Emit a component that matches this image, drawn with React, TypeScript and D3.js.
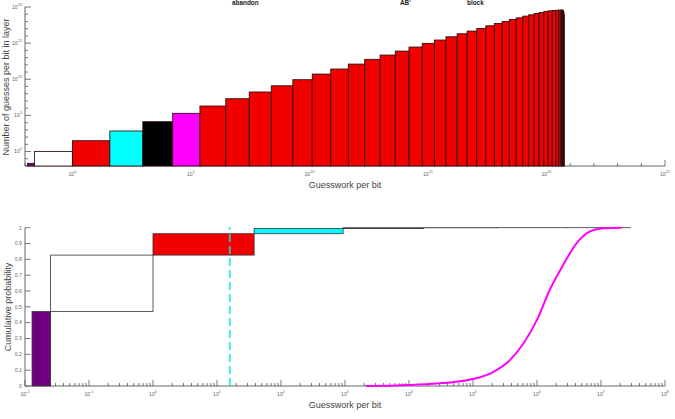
import React from 'react';
import * as d3 from 'd3';

const W = 675;
const H = 419;

// Layer boundaries in guesswork per bit, given as powers of ten
const layerEdgeExp = [
  -1.89, -1.6, 0, 1.58, 2.97, 4.23, 5.38, 6.47, 7.46, 8.39, 9.3, 10.12, 10.9, 11.64,
  12.33, 12.98, 13.62, 14.2, 14.76, 15.27, 15.76, 16.23, 16.65, 17.06, 17.44, 17.8,
  18.13, 18.43, 18.72, 19.0, 19.25, 19.48, 19.69, 19.89, 20.07, 20.24, 20.39, 20.5,
  20.58, 20.63, 20.67, 20.7, 20.72, 20.74, 20.75,
];

// Number of guesses per bit in each layer, as powers of ten
const layerCountExp = [
  -1.63, 0, 1.5, 2.84, 4.13, 5.29, 6.3, 7.31, 8.24, 9.1, 9.94, 10.72, 11.42, 12.1,
  12.76, 13.35, 13.9, 14.46, 14.97, 15.43, 15.88, 16.3, 16.67, 17.04, 17.4, 17.73,
  18.0, 18.28, 18.5, 18.74, 18.92, 19.1, 19.25, 19.4, 19.47, 19.52, 19.55, 19.57,
  19.58, 19.58, 19.57, 19.5, 19.3, 18.9,
];

// Cumulative probability reached at the end of each of the first layers
const layerCumProb = [0.47, 0.827, 0.962, 0.995, 0.9993, 0.99995, 0.999998, 1, 1];

// Fill of the first layers; every later layer is red
const layerFills = ['#6e0080', '#ffffff', '#f20000', '#00ffff', '#000000', '#ff00ff'];
const restFill = '#f20000';

// Comparison distribution (magenta curve), guesswork exponent vs cumulative probability
const curveExp = [3.33, 3.7, 4.02, 4.48, 4.745, 5.0, 5.32, 5.58, 5.79, 6.0, 6.2, 6.41, 6.62, 6.83, 7.04, 7.32];
const curveProb = [0, 0.002, 0.006, 0.017, 0.027, 0.044, 0.09, 0.165, 0.27, 0.418, 0.608, 0.766, 0.903, 0.977, 0.996, 1.0];

// Reference guesswork level (dashed cyan line), as power of ten
const markerExp = 1.2;

// Tick exponents
const topXTickExp = d3.range(-2, 26);
const topXLabelExp = [0, 5, 10, 15, 20, 25];
const topYTickExp = d3.range(-2, 21);
const topYLabelExp = [0, 5, 10, 15, 20];
const botXLabelExp = d3.range(-2, 9);
const botYTicks = [0, 0.1, 0.2, 0.3, 0.4, 0.5, 0.6, 0.7, 0.8, 0.9, 1];

const titleSubs = [
  { text: 'abandon', x: 232 },
  { text: "AB'", x: 400 },
  { text: 'block', x: 467 },
];

const FONT = '"Liberation Sans", Arial, Helvetica, sans-serif';
const AXIS = '#555';
const LABEL = '#666';

const p10 = (e: number) => Math.pow(10, e);

function Pow10Label({ x, y, e, anchor = 'middle' }: { x: number; y: number; e: number; anchor?: string }) {
  return (
    <text x={x} y={y} fontSize={5.2} fill={LABEL} textAnchor={anchor} fontFamily={FONT}>
      10
      <tspan dy={-2.6} fontSize={3.8}>{e}</tspan>
    </text>
  );
}

export default function App() {
  // Upper panel scales
  const xT = d3.scaleLog().domain([1e-2, 1e25]).range([25, 665]);
  const yT = d3.scaleLog().domain([1e-2, 1e20]).range([166, 7]);
  // Lower panel scales
  const xB = d3.scaleLog().domain([1e-2, 1e8]).range([25, 665]);
  const yB = d3.scaleLinear().domain([0, 1]).range([386, 227.7]);

  const bars = layerCountExp.map((c, i) => ({
    x0: p10(layerEdgeExp[i]),
    x1: p10(layerEdgeExp[i + 1]),
    v: p10(c),
    fill: i < layerFills.length ? layerFills[i] : restFill,
  }));

  const cumBlocks = layerCumProb.map((p, i) => ({
    x0: p10(layerEdgeExp[i]),
    x1: p10(layerEdgeExp[i + 1]),
    p0: i === 0 ? 0 : layerCumProb[i - 1],
    p1: p,
    fill: i < layerFills.length ? layerFills[i] : restFill,
  }));

  const curve = d3
    .line<number>()
    .x((_, i) => xB(p10(curveExp[i])))
    .y((p) => yB(p))
    .curve(d3.curveMonotoneX)(curveProb) as string;

  const minorBot: { v: number; major: boolean }[] = [];
  for (let e = -2; e <= 8; e++) {
    minorBot.push({ v: p10(e), major: true });
    if (e < 8) for (let m = 2; m <= 9; m++) minorBot.push({ v: m * p10(e), major: false });
  }

  return (
    <svg width={W} height={H} style={{ position: 'absolute', left: 0, top: 0, background: '#fff' }} fontFamily={FONT}>
      <defs>
        <clipPath id="botClip">
          <rect x={25} y={200} width={640} height={190} />
        </clipPath>
      </defs>

      {/* partially visible title subscripts */}
      {titleSubs.map((s) => (
        <text key={s.text} x={s.x} y={5} fontSize={6.4} fontWeight="bold" fill="#222">
          {s.text}
        </text>
      ))}

      {/* ===== Upper panel: guesses per bit in each layer ===== */}
      <g>
        {topXTickExp.map((e) => (
          <line key={'tx' + e} x1={xT(p10(e))} x2={xT(p10(e))} y1={166} y2={topXLabelExp.includes(e) ? 160 : 163} stroke={AXIS} strokeWidth={0.8} />
        ))}
        {topYTickExp.map((e) => (
          <line key={'ty' + e} x1={25} x2={topYLabelExp.includes(e) ? 31 : 28} y1={yT(p10(e))} y2={yT(p10(e))} stroke={AXIS} strokeWidth={0.8} />
        ))}
        <line x1={25} x2={665} y1={166} y2={166} stroke={AXIS} strokeWidth={0.9} />
        <line x1={25} x2={25} y1={166} y2={7} stroke={AXIS} strokeWidth={0.9} />

        {bars.map((b, i) => (
          <rect
            key={'b' + i}
            x={xT(b.x0)}
            y={yT(b.v)}
            width={Math.max(0, xT(b.x1) - xT(b.x0))}
            height={166 - yT(b.v)}
            fill={b.fill}
            stroke="#2a0c0c"
            strokeWidth={0.85}
          />
        ))}

        {topXLabelExp.map((e) => (
          <Pow10Label key={'lx' + e} x={xT(p10(e))} y={176} e={e} />
        ))}
        {topYLabelExp.map((e) => (
          <Pow10Label key={'ly' + e} x={22} y={yT(p10(e)) + 1.5} e={e} anchor="end" />
        ))}
        <text x={345} y={188} fontSize={9} fill="#444" textAnchor="middle">
          Guesswork per bit
        </text>
        <text transform="translate(8.5,87) rotate(-90)" fontSize={9} fill="#444" textAnchor="middle">
          Number of guesses per bit in layer
        </text>
      </g>

      {/* ===== Lower panel: cumulative probability ===== */}
      <g>
        {minorBot.map((t, i) => (
          <line key={'bx' + i} x1={xB(t.v)} x2={xB(t.v)} y1={386} y2={t.major ? 380 : 383} stroke={AXIS} strokeWidth={0.8} />
        ))}
        {botYTicks.map((t) => (
          <line key={'byt' + t} x1={25} x2={30.5} y1={yB(t)} y2={yB(t)} stroke={AXIS} strokeWidth={0.8} />
        ))}
        <line x1={25} x2={665} y1={386} y2={386} stroke={AXIS} strokeWidth={0.9} />
        <line x1={25} x2={25} y1={386} y2={227.7} stroke={AXIS} strokeWidth={0.9} />

        <g clipPath="url(#botClip)">
          {cumBlocks.map((b, i) => (
            <rect
              key={'c' + i}
              x={xB(b.x0)}
              y={yB(b.p1)}
              width={xB(b.x1) - xB(b.x0)}
              height={yB(b.p0) - yB(b.p1)}
              fill={b.fill}
              stroke="#333"
              strokeWidth={0.8}
            />
          ))}
          <path d={curve} fill="none" stroke="#ff00ff" strokeWidth={2} />
        </g>

        <line
          x1={xB(p10(markerExp))}
          x2={xB(p10(markerExp))}
          y1={386}
          y2={227}
          stroke="#10e6e6"
          strokeOpacity={0.75}
          strokeWidth={2}
          strokeDasharray="8 4"
        />

        {botXLabelExp.map((e) => (
          <Pow10Label key={'bl' + e} x={xB(p10(e))} y={395.5} e={e} />
        ))}
        {botYTicks.map((t) => (
          <text key={'byl' + t} x={22} y={yB(t) + 1.8} fontSize={5.2} fill={LABEL} textAnchor="end">
            {t === 0 || t === 1 ? String(t) : t.toFixed(1)}
          </text>
        ))}
        <text x={345} y={408} fontSize={9} fill="#444" textAnchor="middle">
          Guesswork per bit
        </text>
        <text transform="translate(11,307) rotate(-90)" fontSize={9} fill="#444" textAnchor="middle">
          Cumulative probability
        </text>
      </g>
    </svg>
  );
}
